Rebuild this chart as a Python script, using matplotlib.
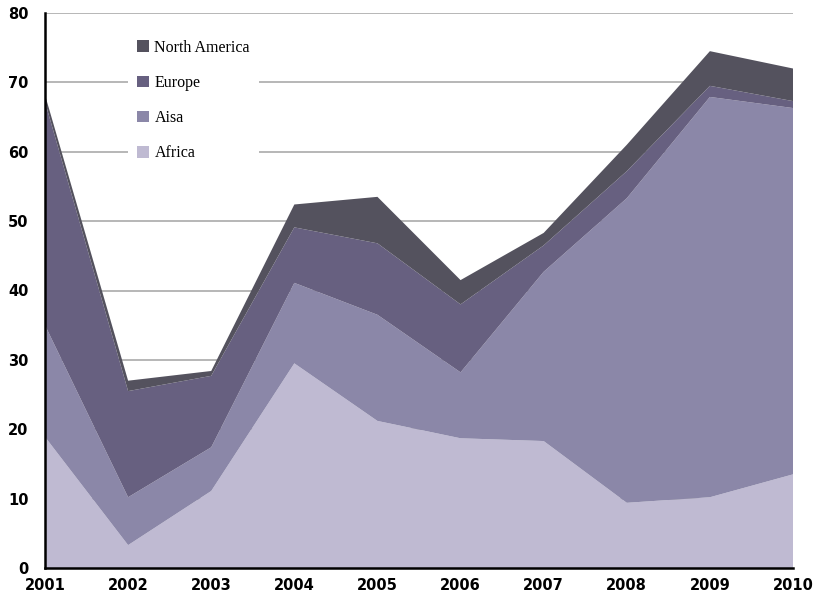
import matplotlib.pyplot as plt
from matplotlib.patches import Patch

years = [2001, 2002, 2003, 2004, 2005, 2006, 2007, 2008, 2009, 2010]
africa = [18.9, 3.3, 11.1, 29.5, 21.2, 18.7, 18.3, 9.4, 10.2, 13.5]
asia = [16.1, 6.9, 6.3, 11.6, 15.3, 9.5, 24.4, 43.9, 57.7, 52.8]
europe = [32.2, 15.3, 10.3, 8.0, 10.3, 9.8, 3.8, 3.9, 1.6, 1.0]
north_america = [1.0, 1.5, 0.7, 3.3, 6.7, 3.5, 1.8, 3.8, 5.0, 4.7]

labels = ['Africa', 'Aisa', 'Europe', 'North America']
colors = ['#bfbad2', '#8b87a8', '#676080', '#54525e']

fig = plt.figure(figsize=(8.2, 5.94), dpi=100)
ax = fig.add_axes([45 / 820, 1 - 568 / 594, 748 / 820, 555 / 594])

ax.stackplot(years, africa, asia, europe, north_america, colors=colors, zorder=2)

ax.set_xlim(2001, 2010)
ax.set_ylim(0, 80)
ax.set_xticks(years)
ax.set_yticks(range(0, 81, 10))
ax.yaxis.grid(True, color='#aaaaaa', linewidth=1.2, zorder=0)
ax.set_axisbelow(True)

for s in ['top', 'right']:
    ax.spines[s].set_visible(False)
ax.spines['left'].set_linewidth(1.8)
ax.spines['bottom'].set_linewidth(1.8)
ax.spines['left'].set_zorder(3)
ax.spines['bottom'].set_zorder(3)

ax.tick_params(axis='both', length=0, labelsize=10.5)
ax.tick_params(axis='x', pad=7)
ax.tick_params(axis='y', pad=12)
for t in ax.get_xticklabels() + ax.get_yticklabels():
    t.set_fontweight('bold')

handles = [Patch(facecolor=c, edgecolor='none') for c in colors][::-1]
leg = ax.legend(handles, labels[::-1], loc='upper left',
                bbox_to_anchor=(128 / 820, 1 - 31 / 594),
                bbox_transform=fig.transFigure,
                prop={'family': 'Liberation Serif', 'size': 11.5},
                frameon=True, facecolor='white', edgecolor='none', framealpha=1,
                fancybox=False, handlelength=0.75, handleheight=0.75,
                handletextpad=0.35, labelspacing=1.2, borderpad=0.55,
                borderaxespad=0)
leg.set_zorder(1)

fig.savefig('out.png', dpi=100)
